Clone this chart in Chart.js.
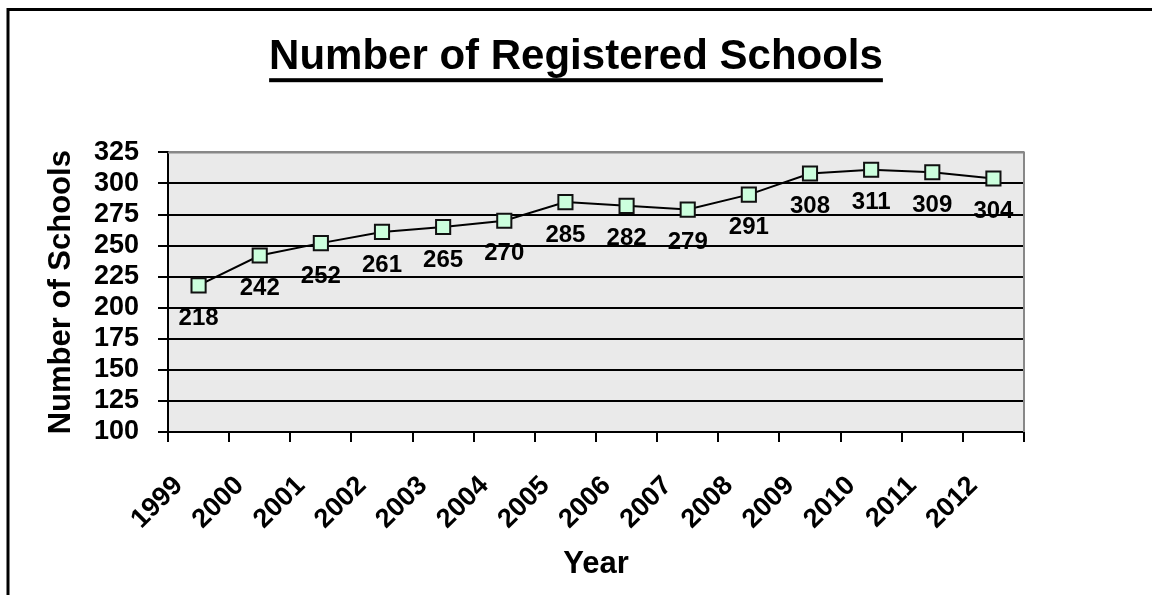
<!DOCTYPE html>
<html>
<head>
<meta charset="utf-8">
<style>
    html, body { margin: 0; padding: 0; background: #fff; }
    #wrap { width: 1152px; height: 595px; position: relative; }
</style>
<script src="https://cdn.jsdelivr.net/npm/chart.js@4/dist/chart.umd.min.js"></script>
</head>
<body>
<div id="wrap"><canvas id="schoolsChart" width="1152" height="595"></canvas></div>
<script>
// Chart data
const years = ['1999', '2000', '2001', '2002', '2003', '2004', '2005', '2006', '2007', '2008', '2009', '2010', '2011', '2012'];
const schools = [218, 242, 252, 261, 265, 270, 285, 282, 279, 291, 308, 311, 309, 304];
const yMin = 100;
const yMax = 325;
const yStep = 25;

const FONT = "'Liberation Sans', Arial, sans-serif";

// Outer frame, plot background and plot border
const framePlugin = {
    id: 'frame',
    beforeDraw(chart) {
        const { ctx, chartArea } = chart;
        ctx.save();
        ctx.fillStyle = '#fff';
        ctx.fillRect(0, 0, chart.width, chart.height);
        ctx.fillStyle = '#eaeaea';
        ctx.fillRect(chartArea.left, chartArea.top, chartArea.right - chartArea.left, chartArea.bottom - chartArea.top);
        // frame only shows top and left edge
        ctx.strokeStyle = '#000';
        ctx.lineWidth = 3;
        ctx.beginPath();
        ctx.moveTo(8, chart.height + 5);
        ctx.lineTo(8, 9.5);
        ctx.lineTo(chart.width + 5, 9.5);
        ctx.stroke();
        ctx.restore();
    },
    beforeDatasetsDraw(chart) {
        const { ctx, chartArea } = chart;
        ctx.save();
        ctx.strokeStyle = '#888';
        ctx.lineWidth = 2;
        ctx.beginPath();
        ctx.moveTo(chartArea.left, chartArea.top);
        ctx.lineTo(chartArea.right, chartArea.top);
        ctx.lineTo(chartArea.right, chartArea.bottom);
        ctx.stroke();
        ctx.restore();
    }
};

// Underline under the title
const underlinePlugin = {
    id: 'underline',
    afterDraw(chart) {
        const title = chart.titleBlock;
        if (!title) return;
        const { ctx } = chart;
        const opts = chart.options.plugins.title;
        ctx.save();
        ctx.font = `bold ${opts.font.size}px ${FONT}`;
        const w = ctx.measureText(opts.text).width;
        const cx = (title.left + title.right) / 2;
        const cy = title.top + opts.padding.top + opts.font.size * 1.2 / 2;
        ctx.fillStyle = '#000';
        ctx.fillRect(cx - w / 2, cy + 21, w, 4);
        ctx.restore();
    }
};

// Value labels under each point
const valueLabelPlugin = {
    id: 'valueLabels',
    afterDatasetsDraw(chart) {
        const { ctx } = chart;
        const meta = chart.getDatasetMeta(0);
        ctx.save();
        ctx.font = `bold 24px ${FONT}`;
        ctx.fillStyle = '#000';
        ctx.textAlign = 'center';
        ctx.textBaseline = 'middle';
        meta.data.forEach((pt, i) => {
            ctx.fillText(String(schools[i]), pt.x, pt.y + 33);
        });
        ctx.restore();
    }
};

const ctx = document.getElementById('schoolsChart').getContext('2d');

new Chart(ctx, {
    type: 'line',
    data: {
        labels: years,
        datasets: [{
            label: 'Number of Schools',
            data: schools,
            borderColor: '#000',
            borderWidth: 2,
            tension: 0,
            fill: false,
            pointStyle: 'rect',
            pointRadius: 10,
            pointBackgroundColor: '#ccffdd',
            pointBorderColor: '#111',
            pointBorderWidth: 2
        }]
    },
    options: {
        responsive: false,
        animation: false,
        devicePixelRatio: 1,
        layout: {
            padding: 0
        },
        plugins: {
            legend: { display: false },
            tooltip: { enabled: false },
            title: {
                display: true,
                text: 'Number of Registered Schools',
                color: '#000',
                font: { family: FONT, size: 42, weight: 'bold' },
                padding: { top: 32, bottom: 70 }
            }
        },
        scales: {
            x: {
                offset: true,
                afterFit: (scale) => { scale.height = 163; },
                grid: {
                    offset: true,
                    drawOnChartArea: false,
                    drawTicks: true,
                    tickLength: 10,
                    color: '#000',
                    lineWidth: 2
                },
                border: { display: true, color: '#000', width: 2 },
                ticks: {
                    color: '#000',
                    font: { family: FONT, size: 27, weight: 'bold' },
                    minRotation: 45,
                    maxRotation: 45,
                    autoSkip: false,
                    labelOffset: -20,
                    padding: 28
                },
                title: {
                    display: true,
                    text: 'Year',
                    color: '#000',
                    font: { family: FONT, size: 31, weight: 'bold' },
                    padding: { top: 12, bottom: 12 }
                }
            },
            y: {
                min: yMin,
                max: yMax,
                afterFit: (scale) => { scale.width = 168; },
                grid: {
                    color: (c) => (c.tick && c.tick.value === yMax ? '#888' : '#000'),
                    tickColor: '#000',
                    lineWidth: 2,
                    tickLength: 10
                },
                border: { display: true, color: '#000', width: 2 },
                ticks: {
                    stepSize: yStep,
                    autoSkip: false,
                    color: '#000',
                    padding: 19,
                    font: { family: FONT, size: 27, weight: 'bold' }
                },
                title: {
                    display: true,
                    text: 'Number of Schools',
                    color: '#000',
                    font: { family: FONT, size: 31, weight: 'bold' },
                    padding: { top: 43, bottom: 0 }
                }
            },
            // empty spacer on the right so the plot ends where the reference does
            spacer: {
                type: 'linear',
                position: 'right',
                afterFit: (scale) => { scale.width = 128; },
                grid: { display: false },
                border: { display: false },
                ticks: { display: false }
            }
        }
    },
    plugins: [framePlugin, underlinePlugin, valueLabelPlugin]
});
</script>
</body>
</html>
